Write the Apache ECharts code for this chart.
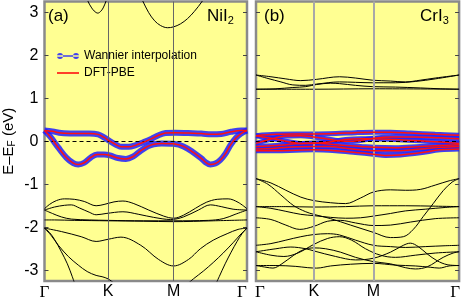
<!DOCTYPE html>
<html><head><meta charset="utf-8">
<script src="https://cdn.jsdelivr.net/npm/echarts@6/dist/echarts.min.js"></script>
<style>html,body{margin:0;padding:0;background:#fff}#c{width:463px;height:301px}</style>
</head><body><div id="c"></div>
<script>
// ---------- tick labels / k-path ----------
const yTicks = [-3, -2, -1, 0, 1, 2, 3];
const kNames = ['Γ', 'K', 'M', 'Γ'];
const kPosA = [0, 64, 130, 204];   // NiI2 k-path positions
const kPosB = [0, 58, 118, 204];   // CrI3 k-path positions

// ---------- (a) NiI2 : Wannier / DFT bands ----------
const niW1 = [[0,0.25],[8,0.23],[17,0.19],[30,0.18],[45,0.18],[54,0.16],[60,0.09],[66,0.0],[72,-0.08],[78,-0.13],[85,-0.13],[92,-0.09],[100,-0.02],[108,0.06],[115,0.14],[122,0.19],[132,0.2],[145,0.19],[158,0.18],[168,0.16],[178,0.17],[188,0.22],[198,0.25],[204,0.25]];
const niW2 = [[0,0.25],[6,0.1],[14,-0.15],[22,-0.38],[29,-0.51],[34,-0.54],[40,-0.5],[47,-0.37],[53,-0.31],[60,-0.31],[66,-0.33],[74,-0.39],[82,-0.41],[89,-0.36],[97,-0.22],[104,-0.12],[110,-0.07],[118,-0.05],[130,-0.06],[140,-0.12],[150,-0.26],[158,-0.4],[163,-0.5],[167,-0.54],[172,-0.52],[177,-0.44],[182,-0.3],[187,-0.1],[193,0.08],[198,0.18],[204,0.25]];
// ---------- (a) NiI2 : other bands ----------
const niT1 = [[41,3.45],[43.7,3.26],[47,3.12],[50,3.03],[53.7,2.98],[57,3.03],[59.5,3.12],[62,3.26],[64,3.4]];
const niT2 = [[95,3.45],[99,3.26],[105,2.99],[111,2.8],[117,2.69],[124,2.64],[130,2.66],[137,2.73],[144,2.85],[151,3.02],[159,3.26],[163,3.42]];
const niB1 = [[0,-1.57],[5,-1.47],[12,-1.38],[20,-1.34],[30,-1.35],[40,-1.4],[52,-1.5],[60,-1.47],[70,-1.41],[79,-1.39],[90,-1.45],[105,-1.6],[120,-1.74],[130,-1.79],[140,-1.72],[152,-1.56],[163,-1.42],[174,-1.35],[185,-1.34],[195,-1.42],[204,-1.57]];
const niB2 = [[0,-1.6],[10,-1.53],[20,-1.49],[27,-1.48],[35,-1.55],[45,-1.65],[52,-1.71],[62,-1.68],[79,-1.64],[95,-1.7],[110,-1.77],[127,-1.82],[140,-1.76],[155,-1.6],[167,-1.48],[178,-1.52],[190,-1.58],[204,-1.6]];
const niB3 = [[0,-1.6],[8,-1.68],[17,-1.76],[27,-1.81],[45,-1.83],[64,-1.84],[100,-1.85],[130,-1.85],[165,-1.84],[180,-1.8],[192,-1.7],[204,-1.6]];
const niB4 = [[0,-1.83],[10,-1.83],[30,-1.84],[64,-1.85],[100,-1.86],[130,-1.87],[170,-1.85],[204,-1.83]];
const niB5 = [[0,-2.02],[17,-2.1],[37,-2.22],[52,-2.33],[64,-2.28],[77,-2.23],[97,-2.42],[115,-2.75],[130,-2.9],[145,-2.75],[157,-2.5],[170,-2.3],[184,-2.15],[195,-2.05],[204,-2.02]];
const niB6 = [[0,-2.02],[5,-2.12],[10,-2.28],[17,-2.57],[23,-2.85],[28,-3.15],[31,-3.35]];
const niB7 = [[0,-2.02],[7,-2.2],[14,-2.42],[24,-2.68],[34,-2.88],[43,-3.03],[52,-3.12],[58,-3.15],[64,-3.2],[70,-3.3]];
const niB8 = [[145,-3.3],[150,-3.2],[160,-3.02],[170,-2.82],[180,-2.6],[190,-2.36],[197,-2.18],[204,-2.02]];
const niB9 = [[172,-3.35],[176,-3.15],[182,-2.85],[188,-2.58],[194,-2.33],[199,-2.15],[204,-2.02]];

// ---------- (b) CrI3 : Wannier / DFT bands ----------
const crW1 = [[0,0.13],[20,0.16],[40,0.17],[58,0.17],[80,0.18],[100,0.2],[118,0.21],[135,0.21],[155,0.19],[180,0.16],[204,0.14]];
const crW2 = [[0,-0.05],[15,0.05],[30,0.12],[45,0.13],[58,0.1],[75,0.04],[90,0.0],[105,0.02],[118,0.07],[135,0.1],[160,0.1],[185,0.08],[204,0.06]];
const crW3 = [[0,0.13],[15,0.07],[30,0.0],[45,-0.05],[58,-0.05],[75,-0.01],[90,0.04],[105,0.06],[118,0.06],[140,0.04],[165,0.01],[185,-0.02],[204,-0.05]];
const crW4 = [[0,-0.12],[20,-0.1],[40,-0.06],[58,-0.04],[75,-0.07],[90,-0.1],[105,-0.12],[118,-0.14],[140,-0.15],[165,-0.12],[185,-0.1],[204,-0.08]];
const crW5 = [[0,-0.18],[20,-0.16],[40,-0.13],[58,-0.12],[75,-0.12],[90,-0.16],[105,-0.2],[118,-0.22],[140,-0.22],[165,-0.18],[185,-0.14],[204,-0.12]];
const crW6 = [[0,-0.22],[20,-0.22],[40,-0.21],[58,-0.2],[80,-0.22],[100,-0.26],[118,-0.3],[130,-0.33],[145,-0.32],[165,-0.27],[185,-0.2],[204,-0.18]];
// ---------- (b) CrI3 : other bands ----------
const crC1 = [[0,1.54],[15,1.5],[30,1.45],[45,1.41],[61,1.44],[84,1.5],[100,1.47],[117,1.42],[135,1.4],[150,1.38],[165,1.42],[180,1.47],[204,1.54]];
const crC2 = [[0,1.54],[12,1.46],[25,1.38],[37,1.31],[50,1.3],[61,1.33],[84,1.38],[100,1.37],[117,1.36],[140,1.36],[160,1.39],[180,1.45],[204,1.54]];
const crC3 = [[0,1.21],[58,1.21],[118,1.22],[204,1.21]];
const crC4 = [[0,1.21],[20,1.22],[37,1.25],[50,1.27],[61,1.32],[75,1.35],[84,1.34],[100,1.3],[117,1.27],[140,1.26],[165,1.24],[185,1.22],[204,1.21]];
const crD1 = [[0,-0.87],[15,-0.97],[30,-1.14],[45,-1.3],[58,-1.38],[75,-1.43],[90,-1.45],[105,-1.32],[118,-1.18],[135,-1.13],[150,-1.14],[165,-1.12],[180,-1.02],[194,-0.92],[204,-0.87]];
const crD2 = [[0,-0.87],[12,-1.0],[25,-1.25],[38,-1.5],[50,-1.64],[58,-1.7],[75,-1.8],[95,-1.95],[118,-2.12],[135,-2.24],[148,-2.22],[158,-2.05],[168,-1.75],[178,-1.45],[188,-1.15],[197,-0.95],[204,-0.87]];
const crD3 = [[0,-1.52],[30,-1.52],[58,-1.53],[90,-1.52],[118,-1.5],[150,-1.5],[180,-1.51],[204,-1.52]];
const crD4 = [[0,-1.52],[15,-1.56],[30,-1.63],[45,-1.7],[58,-1.73],[75,-1.77],[90,-1.79],[105,-1.78],[118,-1.74],[135,-1.68],[150,-1.62],[170,-1.58],[190,-1.54],[204,-1.52]];
const crD5 = [[0,-1.78],[15,-1.82],[30,-1.95],[44,-2.05],[58,-1.98],[72,-1.86],[85,-1.84],[100,-1.9],[118,-1.96],[135,-1.95],[155,-1.88],[180,-1.8],[204,-1.78]];
const crD6 = [[0,-2.42],[15,-2.38],[30,-2.3],[45,-2.22],[58,-2.17],[72,-2.15],[84,-2.18],[100,-2.3],[118,-2.42],[135,-2.45],[150,-2.47],[170,-2.45],[190,-2.43],[204,-2.42]];
const crD7 = [[0,-2.57],[20,-2.5],[35,-2.46],[50,-2.5],[58,-2.55],[80,-2.68],[100,-2.76],[118,-2.72],[135,-2.58],[148,-2.42],[155,-2.37],[163,-2.45],[172,-2.62],[182,-2.78],[192,-2.87],[204,-2.89]];
const crD8 = [[0,-2.57],[15,-2.65],[28,-2.68],[42,-2.6],[58,-2.4],[72,-2.26],[84,-2.22],[96,-2.3],[110,-2.5],[125,-2.65],[140,-2.7],[160,-2.65],[180,-2.6],[204,-2.57]];
const crD9 = [[0,-2.89],[10,-2.93],[17,-2.95],[26,-2.85],[38,-2.65],[48,-2.52],[58,-2.48],[70,-2.5],[85,-2.58],[100,-2.7],[118,-2.8],[135,-2.85],[150,-2.94],[160,-2.97],[172,-2.92],[188,-2.7],[198,-2.6],[204,-2.57]];
const crD10 = [[0,-2.89],[20,-2.89],[40,-2.91],[52,-2.94],[61,-2.95],[75,-2.9],[95,-2.86],[118,-2.84],[140,-2.88],[160,-2.9],[175,-2.93],[184,-2.95],[194,-2.9],[204,-2.89]];

const niCore = [niT1, niT2, niB1, niB2, niB3, niB4, niB5, niB6, niB7, niB8, niB9];
const niWan = [niW1, niW2];
const crCore = [crC1, crC2, crC3, crC4, crD1, crD2, crD3, crD4, crD5, crD6, crD7, crD8, crD9, crD10];
const crWan = [crW1, crW2, crW3, crW4, crW5, crW6];

// ---------- style ----------
const FONT = 'Liberation Sans, Arial, Helvetica, sans-serif';
const BLUE = 'rgba(30,30,255,0.85)';
const RED = '#ff1010';
const BG = '#ffff92';

function gridDef(left, right) {
  return { left: left, right: right, top: 1.5, bottom: 18, show: true,
    backgroundColor: BG, borderColor: '#8a8a8a', borderWidth: 2.5 };
}
function xAx(gi, pos, shifts) {
  return { type: 'value', gridIndex: gi, min: 0, max: 204,
    axisLine: { show: false }, axisTick: { show: false }, splitLine: { show: false },
    axisLabel: { show: true, customValues: pos, margin: 3, color: '#000',
      fontFamily: FONT, fontSize: 16,
      formatter: function (v) {
        const i = pos.indexOf(v);
        const n = kNames[i];
        if (n === 'Γ') return '{g' + i + '|Γ}';
        return n;
      },
      rich: {
        g0: { fontFamily: 'Liberation Serif, Times New Roman, serif', fontSize: 17, color: '#000', padding: [0, 0, 0, shifts[0]] },
        g3: { fontFamily: 'Liberation Serif, Times New Roman, serif', fontSize: 17, color: '#000', padding: [0, shifts[1], 0, 0] }
      } } };
}
function yAx(gi, position, showLabel, withName) {
  const o = { type: 'value', gridIndex: gi, position: position, min: -3.25, max: 3.25,
    axisLine: { show: false }, splitLine: { show: false },
    axisTick: { show: true, inside: true, length: 4, customValues: yTicks, lineStyle: { color: '#444', width: 1 } },
    axisLabel: { show: showLabel, customValues: yTicks, margin: 6, color: '#000', fontFamily: FONT, fontSize: 16,
      formatter: v => String(v) } };
  if (withName) {
    o.name = 'E–E{s|F} (eV)';
    o.nameLocation = 'middle';
    o.nameRotate = 90;
    o.nameGap = 27;
    o.nameTextStyle = { fontFamily: FONT, fontSize: 15, color: '#000',
      rich: { s: { fontFamily: FONT, fontSize: 10, color: '#000', padding: [8, 0, 0, 0] } } };
  }
  return o;
}

const series = [];
function guides(xi, yi, pos) {
  series.push({ type: 'line', xAxisIndex: xi, yAxisIndex: yi, data: [[0, 0]], symbol: 'none',
    lineStyle: { width: 0 }, silent: true, z: 1,
    markLine: { silent: true, symbol: 'none', label: { show: false }, animation: false,
      data: [
        { xAxis: pos[1], lineStyle: { color: xi === 0 ? '#666' : '#a8a8a8', width: xi === 0 ? 1 : 2, type: 'solid' } },
        { xAxis: pos[2], lineStyle: { color: xi === 0 ? '#666' : '#a8a8a8', width: xi === 0 ? 1 : 2, type: 'solid' } },
        { yAxis: 0, lineStyle: { color: '#000', width: 1, type: [4, 3] } }
      ] } });
}
function addLines(list, xi, yi, color, width, name, z) {
  list.forEach(d => series.push({ type: 'line', name: name, xAxisIndex: xi, yAxisIndex: yi, data: d,
    symbol: 'none', showSymbol: false, smooth: 0.35, silent: true, z: z,
    itemStyle: { color: color }, lineStyle: { color: color, width: width } }));
}
guides(0, 0, kPosA);
guides(1, 2, kPosB);
addLines(niCore, 0, 0, '#000', 1, 'core', 3);
addLines(crCore, 1, 2, '#000', 1, 'core', 3);
addLines(niWan, 0, 0, BLUE, 6, 'Wannier interpolation', 4);
addLines(crWan, 1, 2, BLUE, 5, 'Wannier interpolation', 4);
addLines(niWan, 0, 0, RED, 1.5, 'DFT-PBE', 5);
addLines(crWan, 1, 2, RED, 1.5, 'DFT-PBE', 5);

const chart = echarts.init(document.getElementById('c'), null, { renderer: 'canvas' });
chart.setOption({
  animation: false,
  backgroundColor: '#fff',
  grid: [gridDef(43, 216), gridDef(256, 2.5)],
  xAxis: [xAx(0, kPosA, [0, 10]), xAx(1, kPosB, [8, 8])],
  yAxis: [yAx(0, 'left', true, true), yAx(0, 'right', false, false), yAx(1, 'left', false, false), yAx(1, 'right', false, false)],
  legend: { show: true, orient: 'vertical', left: 52, top: 45, itemWidth: 22, itemHeight: 10, itemGap: 5,
    textStyle: { fontFamily: FONT, fontSize: 12, color: '#000' },
    data: [
      { name: 'Wannier interpolation', icon: 'path://M0,2.3H22V3.7H0Z M0,3A3,3 0 1,0 6,3A3,3 0 1,0 0,3Z M16,3A3,3 0 1,0 22,3A3,3 0 1,0 16,3Z' },
      { name: 'DFT-PBE', icon: 'path://M0,0H22V1.6H0Z' }
    ] },
  graphic: [
    { type: 'text', left: 48, top: 8, z: 10, style: { text: '(a)', font: '17px ' + FONT, fill: '#000' } },
    { type: 'text', left: 207, top: 8, z: 10, style: { text: 'NiI{s|2}', font: '17px ' + FONT, fill: '#000',
      rich: { s: { fontSize: 11, fontFamily: FONT, padding: [9, 0, 0, 0] } } } },
    { type: 'text', left: 264, top: 8, z: 10, style: { text: '(b)', font: '17px ' + FONT, fill: '#000' } },
    { type: 'text', left: 420, top: 8, z: 10, style: { text: 'CrI{s|3}', font: '17px ' + FONT, fill: '#000',
      rich: { s: { fontSize: 11, fontFamily: FONT, padding: [9, 0, 0, 0] } } } }
  ],
  series: series
});
</script></body></html>
